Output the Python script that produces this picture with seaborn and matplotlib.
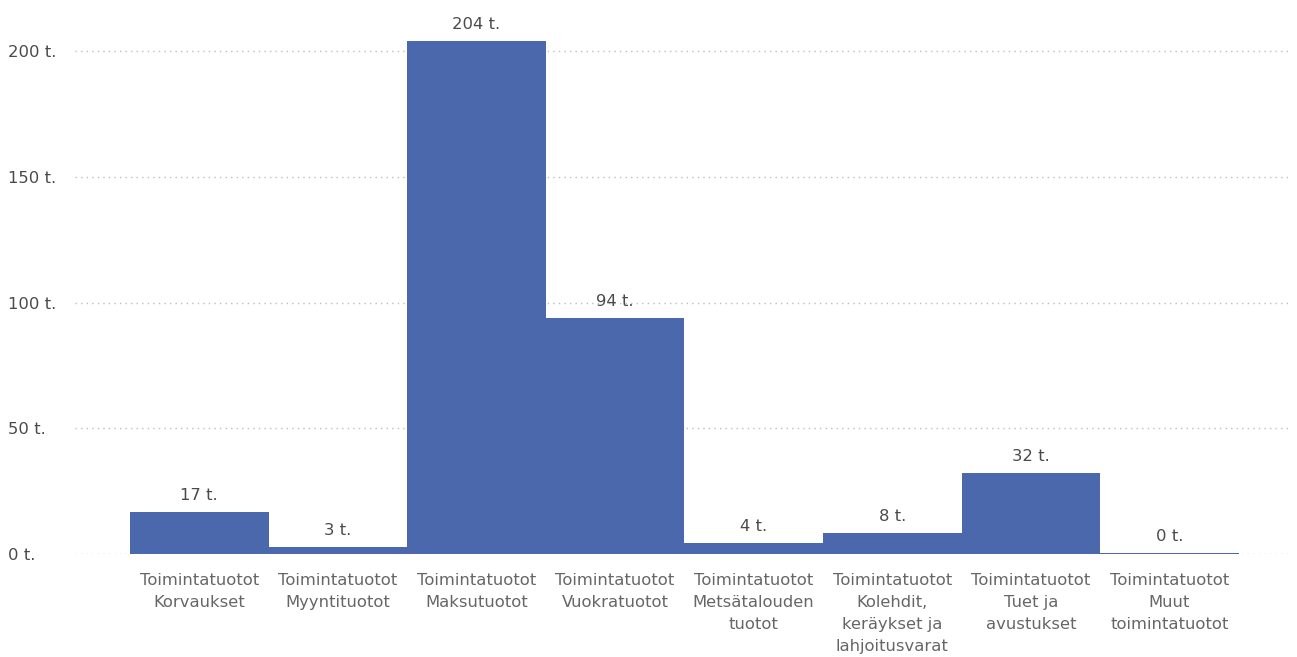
import pandas as pd
import matplotlib.pyplot as plt
import seaborn as sns

# Values (thousands)
categories = [
    'Toimintatuotot\nKorvaukset',
    'Toimintatuotot\nMyyntituotot',
    'Toimintatuotot\nMaksutuotot',
    'Toimintatuotot\nVuokratuotot',
    'Toimintatuotot\nMetsätalouden\ntuotot',
    'Toimintatuotot\nKolehdit,\nkeräykset ja\nlahjoitusvarat',
    'Toimintatuotot\nTuet ja\navustukset',
    'Toimintatuotot\nMuut\ntoimintatuotot',
]
values = [16.7, 2.8, 204.3, 93.8, 4.4, 8.3, 32.2, 0.5]
value_labels = ['17 t.', '3 t.', '204 t.', '94 t.', '4 t.', '8 t.', '32 t.', '0 t.']
yticks = [0, 50, 100, 150, 200]
ytick_labels = ['0 t.', '50 t.', '100 t.', '150 t.', '200 t.']

df = pd.DataFrame({'category': categories, 'value': values})

sns.set_style('white')
plt.rcParams['font.family'] = ['DejaVu Sans']

fig = plt.figure(figsize=(12.97, 6.57), dpi=100)
ax = fig.add_axes([0.0578, 0.1568, 0.9368, 0.8032])

bar_color = '#4C68AC'
label_color = '#4A4A4A'
tick_color = '#666666'
fs = 11.8

sns.barplot(data=df, x='category', y='value', color=bar_color, width=1.0,
            saturation=1, linewidth=0, ax=ax, zorder=3)

for i, (v, lab) in enumerate(zip(values, value_labels)):
    ax.text(i, v + 3.5, lab, ha='center', va='bottom', fontsize=fs, color=label_color)

ax.set_ylim(0, 210)
ax.set_xlim(-0.897, 7.87)
ax.set_yticks(yticks)
ax.set_yticklabels(ytick_labels, fontsize=fs, color=label_color)
ax.tick_params(axis='x', labelsize=fs, labelcolor=tick_color, length=0, pad=14)
ax.tick_params(axis='y', length=0, pad=48)
for lbl in ax.get_xticklabels():
    lbl.set_linespacing(1.58)
for lbl in ax.get_yticklabels():
    lbl.set_horizontalalignment('left')

ax.grid(axis='y', linestyle=(0, (1, 3)), color='#BDBDBD', linewidth=1, zorder=0)
ax.set_xlabel('')
ax.set_ylabel('')
sns.despine(left=True, bottom=True)

fig.savefig('out.png', dpi=100)
